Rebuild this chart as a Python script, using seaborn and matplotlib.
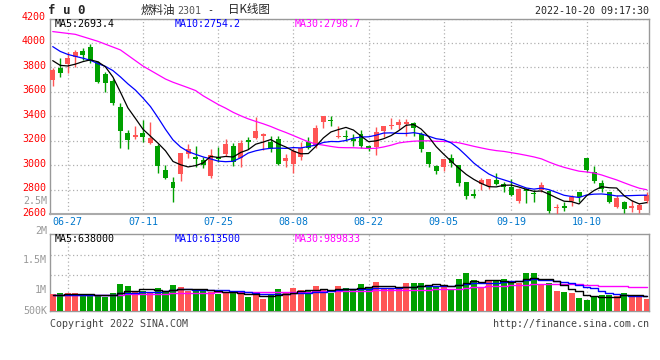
import numpy as np
import pandas as pd
import matplotlib
matplotlib.use("Agg")
import matplotlib.pyplot as plt
import seaborn as sns
from matplotlib.transforms import ScaledTranslation

# ---------------- data ----------------
holidays = ["2022-09-12", "2022-10-03", "2022-10-04", "2022-10-05", "2022-10-06", "2022-10-07"]
trade_days = [d for d in pd.bdate_range("2022-06-23", "2022-10-20") if d.strftime("%Y-%m-%d") not in holidays]
dates = [d.strftime("%m-%d") for d in trade_days]

opens = [3697, 3798, 3828, 3885, 3932, 3965, 3845, 3746, 3689, 3473, 3266, 3231, 3263, 3179, 3157, 2958,
         2860, 2928, 3092, 3067, 3040, 2912, 3070, 3089, 3154, 3056, 3203, 3225, 3242, 3193, 3212, 3034,
         3007, 3070, 3193, 3160, 3351, 3364, 3231, 3242, 3212, 3253, 3160, 3149, 3280, 3321, 3329, 3334,
         3343, 3253, 3105, 2993, 2982, 3062, 2999, 2860, 2764, 2843, 2832, 2876, 2846, 2824, 2707, 2802,
         2772, 2797, 2791, 2647, 2666, 2707, 2778, 3056, 2947, 2852, 2778, 2661, 2696, 2652, 2633, 2707]
closes = [3779, 3757, 3875, 3924, 3899, 3853, 3678, 3673, 3506, 3280, 3206, 3247, 3231, 3220, 2996, 2892,
          2811, 3097, 3130, 3051, 2999, 3081, 3053, 3171, 3029, 3184, 3193, 3280, 3258, 3132, 3010, 3062,
          3116, 3143, 3143, 3307, 3405, 3359, 3242, 3231, 3198, 3157, 3132, 3274, 3318, 3326, 3356, 3356,
          3307, 3130, 3010, 2952, 3048, 3015, 2852, 2751, 2751, 2880, 2884, 2843, 2819, 2756, 2802, 2789,
          2761, 2834, 2625, 2652, 2652, 2742, 2740, 2958, 2871, 2805, 2701, 2729, 2641, 2669, 2674, 2754]
highs = [3798, 3880, 3929, 3943, 3962, 3989, 3853, 3765, 3705, 3506, 3288, 3321, 3370, 3351, 3171, 3002,
         2901, 3100, 3171, 3157, 3067, 3130, 3152, 3212, 3179, 3203, 3233, 3394, 3266, 3239, 3239, 3089,
         3138, 3187, 3228, 3329, 3405, 3405, 3321, 3288, 3253, 3288, 3165, 3313, 3323, 3383, 3375, 3375,
         3356, 3274, 3111, 3002, 3051, 3089, 3002, 2865, 2805, 2892, 2884, 2933, 2860, 2884, 2811, 2811,
         2797, 2865, 2797, 2685, 2696, 2756, 2783, 3062, 2996, 2876, 2783, 2756, 2707, 2715, 2688, 2778]
lows = [3648, 3719, 3752, 3800, 3861, 3834, 3670, 3602, 3493, 3143, 3130, 3214, 3193, 3171, 2933, 2884,
        2701, 2871, 3062, 2982, 2974, 2898, 3029, 3078, 2996, 2988, 3132, 3214, 3124, 3105, 3002, 2982,
        2933, 3042, 3132, 3143, 3302, 3321, 3220, 3198, 3160, 3143, 3116, 3083, 3228, 3296, 3296, 3242,
        3242, 3105, 2982, 2928, 2952, 2982, 2830, 2723, 2729, 2797, 2805, 2838, 2783, 2748, 2688, 2693,
        2696, 2783, 2611, 2600, 2625, 2669, 2701, 2942, 2852, 2778, 2688, 2647, 2606, 2620, 2606, 2688]
volumes = [727, 743, 743, 743, 685, 630, 630, 601, 743, 1121, 1037, 798, 853, 743, 953, 798,
           1079, 995, 853, 911, 853, 798, 727, 798, 743, 743, 575, 685, 491, 714, 911, 798,
           953, 869, 827, 1037, 895, 756, 1037, 953, 911, 1121, 995, 1205, 953, 911, 911, 1163,
           1163, 1163, 1094, 1010, 1052, 926, 1346, 1598, 1304, 1010, 1304, 1262, 1346, 1262, 1178, 1598,
           1598, 1094, 1178, 842, 800, 758, 540, 455, 620, 665, 665, 640, 765, 595, 680, 510]
volumes = [v * 1000 for v in volumes]

# estimated sessions before the window (needed for the moving averages)
prior_closes = [3980, 4100, 4150, 4470, 4420, 4250, 4380, 4210, 3985, 4526, 4567, 4551, 4285, 4061, 3957,
                3600, 3760, 3800, 3750, 4288, 4150, 4120, 4080, 4050, 4025, 3950, 3900, 3850, 3796]
prior_volumes = [640, 660, 655, 670, 645, 650, 665, 640, 660, 650, 655, 645, 670, 660, 650, 640, 655,
                 665, 650, 645, 660, 655, 650, 640, 665, 655, 650, 660, 645]
prior_volumes = [v * 1000 for v in prior_volumes]

tick_dates = ["06-27", "07-11", "07-25", "08-08", "08-22", "09-05", "09-19", "10-10"]
price_ticks = [2600, 2800, 3000, 3200, 3400, 3600, 3800, 4000, 4200]
vol_grid = [1.5e6, 2.35e6]
vol_labels = [("2.5M", 200.7), ("2M", 231), ("1.5M", 260), ("1M", 290), ("500K", 311)]

# ---------------- derived ----------------
n = len(closes)
idx = np.arange(n)
cl_all = pd.Series(prior_closes + closes, dtype=float)
vo_all = pd.Series(prior_volumes + volumes, dtype=float)
np_ = len(prior_closes)
ma = {k: cl_all.rolling(k).mean().iloc[np_:].to_numpy() for k in (5, 10, 30)}
vma = {k: vo_all.rolling(k).mean().iloc[np_:].to_numpy() for k in (5, 10, 30)}

RED, GREEN = "#ff5555", "#00a000"
up = np.array(closes) >= np.array(opens)
cols = np.where(up, RED, GREEN)
df = pd.DataFrame({"i": idx, "vol": volumes, "dir": np.where(up, "up", "down")})

W, H = 660, 360
fig = plt.figure(figsize=(6.6, 3.6), dpi=100)
fig.patch.set_facecolor("white")
sns.set_style("white")
plt.rcParams["font.family"] = ["DejaVu Sans Mono", "DejaVu Sans"]
MONO = ["DejaVu Sans Mono", "DejaVu Sans"]
FS = 7.2

def fx(px):
    return px / W

def fy(py):
    return 1 - py / H

ax = fig.add_axes([fx(50), fy(214), fx(599), (214 - 18.5) / H])
axv = fig.add_axes([fx(50), fy(311), fx(599), 77 / H])

xl = (-0.36, 79.3)
grid_kw = dict(color="#b0b0b0", linestyle=(0, (1, 2)), linewidth=0.9)

# ---------- price panel ----------
ax.vlines(idx, lows, highs, colors=cols, linewidth=1.0, zorder=3)
body_lo = np.minimum(opens, closes)
body_h = np.maximum(np.abs(np.array(closes) - np.array(opens)), 7)
ax.bar(idx, body_h, bottom=body_lo, width=0.66, color=cols, linewidth=0, zorder=4)
sns.lineplot(x=idx, y=ma[30], ax=ax, color="#ff00ff", linewidth=0.9, zorder=5)
sns.lineplot(x=idx, y=ma[10], ax=ax, color="#0000ff", linewidth=0.9, zorder=5)
sns.lineplot(x=idx, y=ma[5], ax=ax, color="#000000", linewidth=0.9, zorder=6)

ax.set_xlim(*xl)
ax.set_ylim(2600, 4200)
tick_pos = [dates.index(t) for t in tick_dates]
ax.set_xticks(tick_pos)
ax.set_xticklabels(tick_dates, color="#0077cc", fontsize=FS, family=MONO)
ax.set_yticks(price_ticks)
ax.set_yticklabels([str(t) for t in price_ticks], color="#ff0000", fontsize=FS, family=MONO)
ax.tick_params(length=0, pad=3)
ax.tick_params(axis="x", pad=2.5)
for lab in ax.get_yticklabels():
    lab.set_transform(lab.get_transform() + ScaledTranslation(0, 2.5 / 100, fig.dpi_scale_trans))
ax.grid(True, **grid_kw)
ax.set_axisbelow(True)
for s in ax.spines.values():
    s.set_color("#999999")
    s.set_linewidth(1.0)
ax.spines["bottom"].set_color("#aaaaaa")
ax.spines["bottom"].set_linewidth(1.5)
ax.set_xlabel("")
ax.set_ylabel("")

# ---------- volume panel ----------
sns.barplot(data=df, x="i", y="vol", hue="dir", palette={"up": RED, "down": GREEN},
            native_scale=True, dodge=False, width=0.8, saturation=1, errorbar=None,
            legend=False, ax=axv, linewidth=0, zorder=3)
sns.lineplot(x=idx, y=vma[30], ax=axv, color="#ff00ff", linewidth=1.0, drawstyle="steps-mid", zorder=5)
sns.lineplot(x=idx, y=vma[10], ax=axv, color="#0000ff", linewidth=1.0, drawstyle="steps-mid", zorder=5)
sns.lineplot(x=idx, y=vma[5], ax=axv, color="#000000", linewidth=1.0, drawstyle="steps-mid", zorder=6)
axv.set_xlim(*xl)
axv.set_ylim(0, 77 * 42000)
axv.set_xticks(tick_pos)
axv.set_xticklabels([])
axv.set_yticks(vol_grid)
axv.set_yticklabels([])
axv.tick_params(length=0)
axv.grid(True, **grid_kw)
axv.set_axisbelow(True)
for s in axv.spines.values():
    s.set_color("#999999")
    s.set_linewidth(1.0)
axv.set_xlabel("")
axv.set_ylabel("")

# ---------- texts ----------
fig.text(fx(48), fy(11), "f u 0", fontsize=9, fontweight="bold", family=MONO, va="center", ha="left")
CJK = ["Noto Sans CJK SC", "DejaVu Sans"]
fig.text(fx(141), fy(10), "燃料油", fontsize=8.3, family=CJK, va="center", ha="left")
fig.text(fx(177), fy(10.5), "2301", fontsize=FS, family=MONO, color="#555555", va="center", ha="left")
fig.text(fx(207), fy(10), "-", fontsize=FS, family=MONO, va="center", ha="left")
fig.text(fx(228), fy(10), "日K线图", fontsize=8.3, family=CJK, va="center", ha="left")
fig.text(fx(649), fy(11), "2022-10-20 09:17:30", fontsize=FS, family=MONO, va="center", ha="right")

fig.text(fx(55), fy(24), f"MA5:{ma[5][-1]:.1f}", fontsize=FS, family=MONO, color="black", va="center")
fig.text(fx(175), fy(24), f"MA10:{ma[10][-1]:.1f}", fontsize=FS, family=MONO, color="#0000ff", va="center")
fig.text(fx(295), fy(24), f"MA30:{ma[30][-1]:.1f}", fontsize=FS, family=MONO, color="#ff00ff", va="center")

fig.text(fx(55), fy(238.5), f"MA5:{vma[5][-1]:.0f}", fontsize=FS, family=MONO, color="black", va="center")
fig.text(fx(175), fy(238.5), f"MA10:{vma[10][-1]:.0f}", fontsize=FS, family=MONO, color="#0000ff", va="center")
fig.text(fx(295), fy(238.5), f"MA30:{vma[30][-1]:.0f}", fontsize=FS, family=MONO, color="#ff00ff", va="center")

for txt, py in vol_labels:
    fig.text(fx(47), fy(py), txt, fontsize=FS, family=MONO, color="#999999", va="center", ha="right")

fig.text(fx(50), fy(324), "Copyright 2022 SINA.COM", fontsize=FS, family=MONO, color="#444444", va="center")
fig.text(fx(649), fy(324), "http://finance.sina.com.cn", fontsize=FS, family=MONO, color="#444444",
         va="center", ha="right")

fig.savefig("out.png", dpi=100, facecolor="white")
